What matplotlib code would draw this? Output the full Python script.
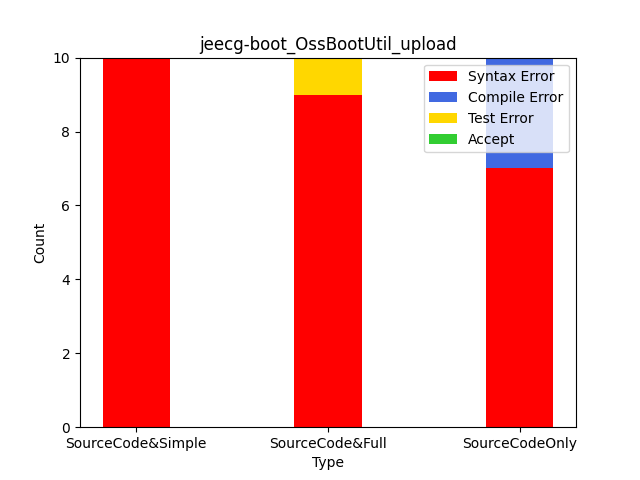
import matplotlib.pyplot as plt
import numpy as np

types = ['SourceCode&Simple', 'SourceCode&Full', 'SourceCodeOnly']
syntax_error = [10, 9, 7]
compile_error = [0, 0, 3]
test_error = [0, 1, 0]
accept = [0, 0, 0]

x = np.arange(len(types))
width = 0.35

fig, ax = plt.subplots(figsize=(6.4, 4.8), dpi=100)
bottom = np.zeros(len(types))
series = [
    (syntax_error, 'Syntax Error', 'red'),
    (compile_error, 'Compile Error', 'royalblue'),
    (test_error, 'Test Error', 'gold'),
    (accept, 'Accept', 'limegreen'),
]
for vals, label, color in series:
    ax.bar(x, vals, width, bottom=bottom, label=label, color=color)
    bottom += np.array(vals)

ax.set_xticks(x)
ax.set_xticklabels(types)
ax.set_xlabel('Type')
ax.set_ylabel('Count')
ax.set_title('jeecg-boot_OssBootUtil_upload')
ax.set_ylim(0, 10)
ax.legend(loc='upper right')

plt.savefig('out.png')
